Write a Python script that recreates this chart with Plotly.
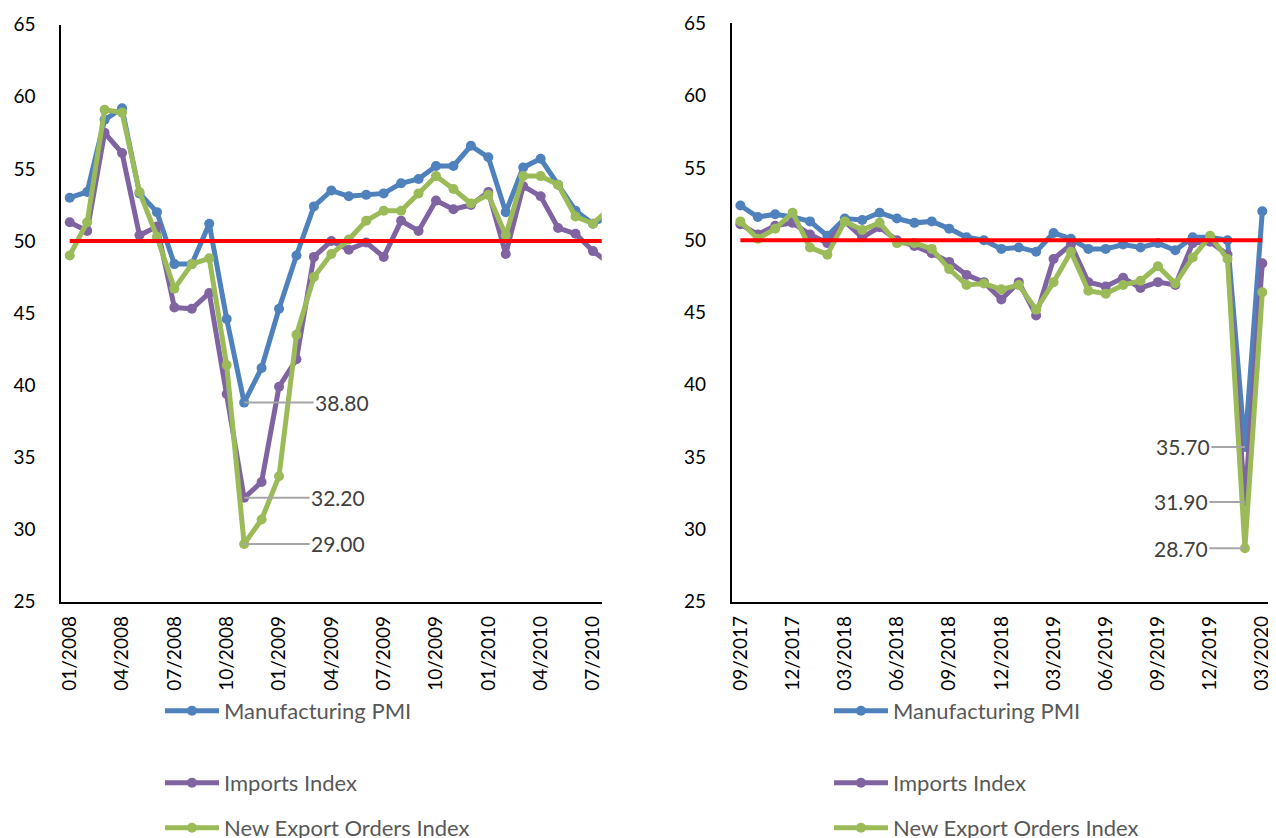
import plotly.graph_objects as go

W, H = 1276, 838
OFF = 8  # default page margin around the plot div

# ---------------- data ----------------
left_months = ["01/2008", "02/2008", "03/2008", "04/2008", "05/2008", "06/2008",
               "07/2008", "08/2008", "09/2008", "10/2008", "11/2008", "12/2008",
               "01/2009", "02/2009", "03/2009", "04/2009", "05/2009", "06/2009",
               "07/2009", "08/2009", "09/2009", "10/2009", "11/2009", "12/2009",
               "01/2010", "02/2010", "03/2010", "04/2010", "05/2010", "06/2010",
               "07/2010", "08/2010"]
left_pmi = [53.0, 53.4, 58.4, 59.2, 53.3, 52.0, 48.4, 48.4, 51.2, 44.6, 38.8, 41.2,
            45.3, 49.0, 52.4, 53.5, 53.1, 53.2, 53.3, 54.0, 54.3, 55.2, 55.2, 56.6,
            55.8, 52.0, 55.1, 55.7, 53.9, 52.1, 51.2, 51.7]
left_imports = [51.3, 50.7, 57.5, 56.1, 50.4, 51.0, 45.4, 45.3, 46.4, 39.4, 32.2, 33.3,
                39.9, 41.8, 48.9, 50.0, 49.4, 49.9, 48.9, 51.4, 50.7, 52.8, 52.2, 52.5,
                53.4, 49.1, 53.8, 53.1, 50.9, 50.5, 49.3, 48.4]
left_export = [49.0, 51.3, 59.1, 58.9, 53.4, 50.3, 46.7, 48.4, 48.8, 41.4, 29.0, 30.7,
               33.7, 43.5, 47.5, 49.1, 50.1, 51.4, 52.1, 52.1, 53.3, 54.5, 53.6, 52.6,
               53.2, 50.4, 54.5, 54.5, 53.9, 51.7, 51.2, 52.3]

right_months = ["09/2017", "10/2017", "11/2017", "12/2017", "01/2018", "02/2018",
                "03/2018", "04/2018", "05/2018", "06/2018", "07/2018", "08/2018",
                "09/2018", "10/2018", "11/2018", "12/2018", "01/2019", "02/2019",
                "03/2019", "04/2019", "05/2019", "06/2019", "07/2019", "08/2019",
                "09/2019", "10/2019", "11/2019", "12/2019", "01/2020", "02/2020",
                "03/2020"]
right_pmi = [52.4, 51.6, 51.8, 51.6, 51.3, 50.3, 51.5, 51.4, 51.9, 51.5, 51.2, 51.3,
             50.8, 50.2, 50.0, 49.4, 49.5, 49.2, 50.5, 50.1, 49.4, 49.4, 49.7, 49.5,
             49.8, 49.3, 50.2, 50.2, 50.0, 35.7, 52.0]
right_imports = [51.1, 50.4, 51.0, 51.2, 50.4, 49.8, 51.3, 50.2, 50.9, 50.0, 49.6, 49.1,
                 48.5, 47.6, 47.1, 45.9, 47.1, 44.8, 48.7, 49.7, 47.1, 46.8, 47.4, 46.7,
                 47.1, 46.9, 49.8, 49.9, 49.0, 31.9, 48.4]
right_export = [51.3, 50.1, 50.8, 51.9, 49.5, 49.0, 51.3, 50.7, 51.2, 49.8, 49.8, 49.4,
                48.0, 46.9, 47.0, 46.6, 46.9, 45.2, 47.1, 49.2, 46.5, 46.3, 46.9, 47.2,
                48.2, 47.0, 48.8, 50.3, 48.7, 28.7, 46.4]

THRESHOLD = 50
series_names = ["Manufacturing PMI", "Imports Index", "New Export Orders Index"]
colors = ["#4F81BD", "#8064A2", "#9BBB59"]
TICK_EVERY = 3
VISIBLE = 31  # categories shown on each axis

FONT = "Lato"
fig = go.Figure()

panels = [
    dict(months=left_months, data=[left_pmi, left_imports, left_export],
         xa="x", ya="y", legends=["legend", "legend2", "legend3"]),
    dict(months=right_months, data=[right_pmi, right_imports, right_export],
         xa="x2", ya="y2", legends=["legend4", "legend5", "legend6"]),
]

for p in panels:
    idx = list(range(len(p["months"])))
    for name, col, vals, lg in zip(series_names, colors, p["data"], p["legends"]):
        fig.add_trace(go.Scatter(
            x=idx, y=vals, name=name, mode="lines+markers",
            line=dict(color=col, width=5), marker=dict(color=col, size=10),
            xaxis=p["xa"], yaxis=p["ya"], legend=lg,
            customdata=p["months"], hovertemplate="%{customdata}: %{y}<extra>" + name + "</extra>"))
    fig.add_trace(go.Scatter(
        x=idx, y=[THRESHOLD] * len(idx), mode="lines", showlegend=False,
        line=dict(color="#FF0000", width=4), xaxis=p["xa"], yaxis=p["ya"],
        hoverinfo="skip"))

# ---------------- annotations (minimum of each series) ----------------
ann = []
left_offsets = [98, 94, 94]
right_offsets = [-62, -64, -64]
for p, offs in zip(panels, [left_offsets, right_offsets]):
    for vals, ax in zip(p["data"], offs):
        i = vals.index(min(vals))
        ann.append(dict(x=i, y=vals[i], xref=p["xa"], yref=p["ya"],
                        text=f"{vals[i]:.2f}", showarrow=True, arrowhead=0,
                        arrowwidth=2, arrowcolor="#A6A6A6", ax=ax, ay=0,
                        standoff=0, startstandoff=0,
                        font=dict(family=FONT, size=21, color="#404040")))

# ---------------- axes ----------------
def px_x(v):
    return (v - OFF) / W

def px_y(v):
    return 1 - (v - OFF) / H

left_dom = [px_x(61), px_x(601.7)]
right_dom = [px_x(731.7), px_x(1271)]
left_ydom = [px_y(601.7), px_y(24.6)]
right_ydom = [px_y(601.7), px_y(23.3)]

tickfont = dict(family=FONT, size=19, color="#000000")
label_pos = list(range(0, VISIBLE, TICK_EVERY))
bound_pos = [v - 0.5 for v in label_pos]

def label_axis(dom, yname, months):
    return dict(domain=dom, anchor=yname, range=[-0.5, VISIBLE - 0.5],
                tickmode="array", tickvals=label_pos,
                ticktext=[months[i] for i in label_pos],
                tickangle=-90, ticks="outside", ticklen=5,
                tickcolor="rgba(0,0,0,0)", tickfont=tickfont,
                showline=True, linecolor="#000000", linewidth=1.5,
                showgrid=False, zeroline=False, fixedrange=True)

def tick_axis(overlay, yname):
    return dict(overlaying=overlay, anchor=yname, range=[-0.5, VISIBLE - 0.5],
                tickmode="array", tickvals=bound_pos, ticks="outside",
                ticklen=7, tickwidth=1.5, tickcolor="#000000",
                showticklabels=False, showline=False, showgrid=False,
                zeroline=False, fixedrange=True)

def y_axis(dom, xname):
    return dict(domain=dom, anchor=xname, range=[25, 65], dtick=5,
                ticks="outside", ticklen=20, tickcolor="rgba(0,0,0,0)",
                tickfont=tickfont, showline=True, linecolor="#000000",
                linewidth=1.5, showgrid=False, zeroline=False, fixedrange=True)

legend_common = dict(font=dict(family=FONT, size=22, color="#595959"),
                     bgcolor="rgba(0,0,0,0)", borderwidth=0, itemwidth=54,
                     xanchor="left", yanchor="middle", orientation="v")
leg_rows = [711, 783, 828]
legends = {}
for k, (lx, names) in enumerate([(160, ["legend", "legend2", "legend3"]),
                                  (829, ["legend4", "legend5", "legend6"])]):
    for nm, ry in zip(names, leg_rows):
        legends[nm] = dict(legend_common, x=px_x(lx), y=px_y(ry))

fig.update_layout(
    width=W, height=H,
    margin=dict(l=0, r=0, t=0, b=0, autoexpand=False),
    paper_bgcolor="#FFFFFF", plot_bgcolor="#FFFFFF",
    xaxis=label_axis(left_dom, "y", left_months),
    xaxis2=label_axis(right_dom, "y2", right_months),
    xaxis3=tick_axis("x", "y"),
    xaxis4=tick_axis("x2", "y2"),
    yaxis=y_axis(left_ydom, "x"),
    yaxis2=y_axis(right_ydom, "x2"),
    annotations=ann,
    showlegend=True,
    **legends,
)

fig.write_html("out.html")
